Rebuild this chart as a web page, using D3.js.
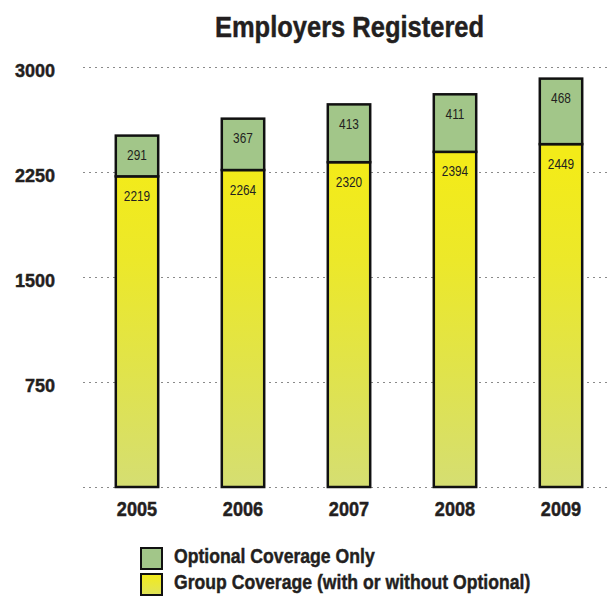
<!DOCTYPE html>
<html>
<head>
<meta charset="utf-8">
<script src="https://cdn.jsdelivr.net/npm/d3@7"></script>
<style>
  html, body { margin: 0; padding: 0; background: #fff; }
  svg { display: block; }
  text { font-family: "Liberation Sans", Arial, Helvetica, sans-serif; fill: #231f20; }
  text.heavy { stroke: #231f20; stroke-width: 0.45px; paint-order: stroke; }
</style>
</head>
<body>
<svg id="chart" width="611" height="598"></svg>
<script>
// Employers registered per year, split by coverage type
const years = ["2005", "2006", "2007", "2008", "2009"];
const groupCoverage = [2219, 2264, 2320, 2394, 2449];
const optionalOnly = [291, 367, 413, 411, 468];
const yTicks = [0, 750, 1500, 2250, 3000];
const seriesNames = ["Group Coverage (with or without Optional)", "Optional Coverage Only"];
const legendOrder = ["Optional Coverage Only", "Group Coverage (with or without Optional)"];

const svg = d3.select("#chart");
const W = 611;

const x = d3.scaleBand().domain(years).range([84, 614]).paddingInner(0.6).paddingOuter(0.3);
const y = d3.scaleLinear().domain([0, 3000]).range([487, 67]);

// squeeze text horizontally to get a condensed face, keeping its anchor point
function condense(sel, sx) {
  sel.each(function () {
    const t = d3.select(this);
    const x0 = +t.attr("x") || 0;
    t.attr("x", x0 / sx).attr("transform", `scale(${sx},1)`);
  });
}

// yellow gradient spanning the plot height
const defs = svg.append("defs");
const grad = defs.append("linearGradient")
  .attr("id", "yellowGrad")
  .attr("gradientUnits", "userSpaceOnUse")
  .attr("x1", 0).attr("x2", 0)
  .attr("y1", y(2300)).attr("y2", y(0));
grad.append("stop").attr("offset", "0%").attr("stop-color", "#f3eb19");
grad.append("stop").attr("offset", "30%").attr("stop-color", "#ece82a");
grad.append("stop").attr("offset", "65%").attr("stop-color", "#e0e34c");
grad.append("stop").attr("offset", "100%").attr("stop-color", "#d5de72");

const green = "#a2c689";
const fills = {
  "Group Coverage (with or without Optional)": "url(#yellowGrad)",
  "Optional Coverage Only": green
};
const legendFills = {
  "Group Coverage (with or without Optional)": "url(#legendGrad)",
  "Optional Coverage Only": green
};

// title
const title = svg.append("g").attr("transform", "translate(349.5,36.7)");
title.append("text")
  .attr("class", "heavy")
  .attr("text-anchor", "middle")
  .attr("font-size", 29.3).attr("font-weight", "bold")
  .text("Employers Registered")
  .call(condense, 0.87);

// gridlines and y labels
const yAxis = d3.axisLeft(y).tickValues(yTicks).tickSize(-(W - 83)).tickFormat(d => d === 0 ? "" : d);
const gy = svg.append("g").attr("transform", "translate(83,0)").call(yAxis);
gy.select(".domain").remove();
gy.selectAll(".tick line")
  .attr("stroke", "#8a8a8a").attr("stroke-width", 1).attr("stroke-dasharray", "2,4");
gy.selectAll(".tick text")
  .attr("class", "heavy")
  .attr("x", -28).attr("dy", "0.51em")
  .attr("font-size", 19).attr("font-weight", "bold")
  .attr("font-family", null)
  .style("fill", "#231f20")
  .call(condense, 0.95);

// stacked bars
const rows = years.map((yr, i) => ({
  year: yr,
  "Group Coverage (with or without Optional)": groupCoverage[i],
  "Optional Coverage Only": optionalOnly[i]
}));
const stack = d3.stack().keys(seriesNames)(rows);

const layers = svg.append("g").selectAll("g").data(stack).join("g");
layers.selectAll("rect")
  .data(d => d.map(p => ({ key: d.key, p })))
  .join("rect")
  .attr("x", d => x(d.p.data.year))
  .attr("width", x.bandwidth())
  .attr("y", d => y(d.p[1]))
  .attr("height", d => y(d.p[0]) - y(d.p[1]))
  .attr("fill", d => fills[d.key])
  .attr("stroke", "#111")
  .attr("stroke-width", 2.5);

// value labels, near the top of each segment
layers.selectAll("g.val")
  .data(d => d.map(p => ({ key: d.key, p })))
  .join("g")
  .attr("class", "val")
  .attr("transform", d => `translate(${x(d.p.data.year) + x.bandwidth() / 2},${y(d.p[1]) + 24.5})`)
  .append("text")
  .attr("text-anchor", "middle")
  .attr("font-size", 15)
  .text(d => d.p.data[d.key])
  .call(condense, 0.79);

// year labels
const xAxis = d3.axisBottom(x).tickSize(0);
const gx = svg.append("g").attr("transform", "translate(0,487)").call(xAxis);
gx.select(".domain").remove();
gx.selectAll(".tick text")
  .attr("class", "heavy")
  .attr("y", 28.7).attr("dy", null)
  .attr("font-size", 19.5).attr("font-weight", "bold")
  .attr("font-family", null)
  .style("fill", "#231f20")
  .call(condense, 0.93);

// legend
const lgGrad = defs.append("linearGradient")
  .attr("id", "legendGrad").attr("x1", 0).attr("x2", 0).attr("y1", 0).attr("y2", 1);
lgGrad.append("stop").attr("offset", "0%").attr("stop-color", "#f3eb19");
lgGrad.append("stop").attr("offset", "100%").attr("stop-color", "#dfe35a");

const legend = svg.append("g").selectAll("g").data(legendOrder).join("g")
  .attr("transform", (d, i) => `translate(141,${548 + i * 26})`);
legend.append("rect")
  .attr("width", 21).attr("height", 21)
  .attr("fill", d => legendFills[d])
  .attr("stroke", "#111").attr("stroke-width", 2);
legend.append("g")
  .attr("transform", "translate(33,14.5)")
  .append("text")
  .attr("class", "heavy")
  .attr("font-size", 20.5).attr("font-weight", "bold")
  .text(d => d)
  .call(condense, 0.86);
</script>
</body>
</html>
